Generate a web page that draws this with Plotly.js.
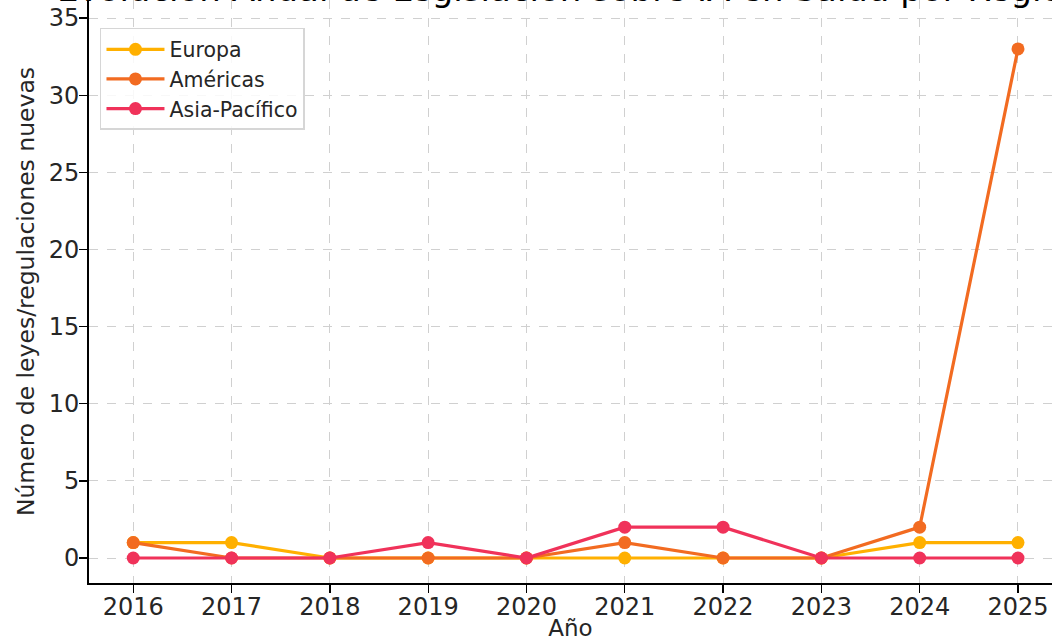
<!DOCTYPE html>
<html>
<head>
<meta charset="utf-8">
<script src="https://cdn.plot.ly/plotly-3.0.1.min.js"></script>
<style>
  html, body { margin: 0; padding: 0; background: #ffffff; }
  #chart { width: 1052px; height: 641px; }
</style>
</head>
<body>
<div id="chart"></div>
<script>
// Annual count of new AI-in-health laws/regulations by region
const years = [2016, 2017, 2018, 2019, 2020, 2021, 2022, 2023, 2024, 2025];
const europa = [1, 1, 0, 0, 0, 0, 0, 0, 1, 1];
const americas = [1, 0, 0, 0, 0, 1, 0, 0, 2, 33];
const asiaPacifico = [0, 0, 0, 1, 0, 2, 2, 0, 0, 0];
const seriesNames = ['Europa', 'Américas', 'Asia-Pacífico'];
const seriesColors = ['#FFB000', '#F26B21', '#F0325A'];
const yTicks = [0, 5, 10, 15, 20, 25, 30, 35];
const titleText = 'Evolución Anual de Legislación sobre IA en Salud por Región';

const FONT = 'DejaVu Sans, sans-serif';
const TEXT = '#262626';

const values = [europa, americas, asiaPacifico];
const traces = values.map((v, i) => ({
  type: 'scatter',
  mode: 'lines+markers',
  name: seriesNames[i],
  x: years,
  y: v,
  line: { color: seriesColors[i], width: 3.2 },
  marker: { color: seriesColors[i], size: 13 },
  cliponaxis: false
}));

const gridStyle = {
  showgrid: true,
  gridcolor: '#d0d0d0',
  griddash: 'dash',
  gridwidth: 1
};

const layout = {
  width: 1052,
  height: 641,
  margin: { l: 89, r: 0, t: 0, b: 58 },
  paper_bgcolor: '#ffffff',
  plot_bgcolor: '#ffffff',
  font: { family: FONT, color: TEXT, size: 24 },
  showlegend: true,
  legend: {
    x: 0.0114, y: 0.952, xanchor: 'left', yanchor: 'top',
    bgcolor: 'rgba(255,255,255,0.85)',
    bordercolor: '#d6d6d6', borderwidth: 1.5,
    font: { family: FONT, size: 20.5, color: TEXT },
    itemwidth: 58,
    tracegroupgap: 0
  },
  xaxis: Object.assign({
    range: [2015.55, 2025.346],
    tickmode: 'array',
    tickvals: years,
    ticktext: years.map(String),
    ticks: 'outside', ticklen: 8, tickwidth: 1.3, tickcolor: '#000',
    ticklabelstandoff: -7,
    showline: true, linecolor: '#000', linewidth: 2,
    zeroline: false,
    tickfont: { family: FONT, size: 24, color: TEXT },
    title: { text: 'Año', font: { family: FONT, size: 23, color: TEXT }, standoff: 4 }
  }, gridStyle),
  yaxis: Object.assign({
    range: [-1.62, 36.17],
    tickmode: 'array',
    tickvals: yTicks,
    ticktext: yTicks.map(String),
    ticks: 'outside', ticklen: 8, tickwidth: 1.3, tickcolor: '#000',
    ticklabelstandoff: -5,
    showline: true, linecolor: '#000', linewidth: 2,
    zeroline: false,
    tickfont: { family: FONT, size: 24, color: TEXT },
    title: { text: 'Número de leyes/regulaciones nuevas', font: { family: FONT, size: 23.5, color: TEXT }, standoff: 7 }
  }, gridStyle),
  annotations: [{
    text: titleText,
    xref: 'paper', yref: 'paper',
    x: 0.5, y: 1, xanchor: 'center', yanchor: 'bottom',
    yshift: -10.8,
    showarrow: false,
    font: { family: FONT, size: 34, color: '#000' }
  }]
};

Plotly.newPlot('chart', traces, layout, { displayModeBar: false, staticPlot: true });
</script>
</body>
</html>
